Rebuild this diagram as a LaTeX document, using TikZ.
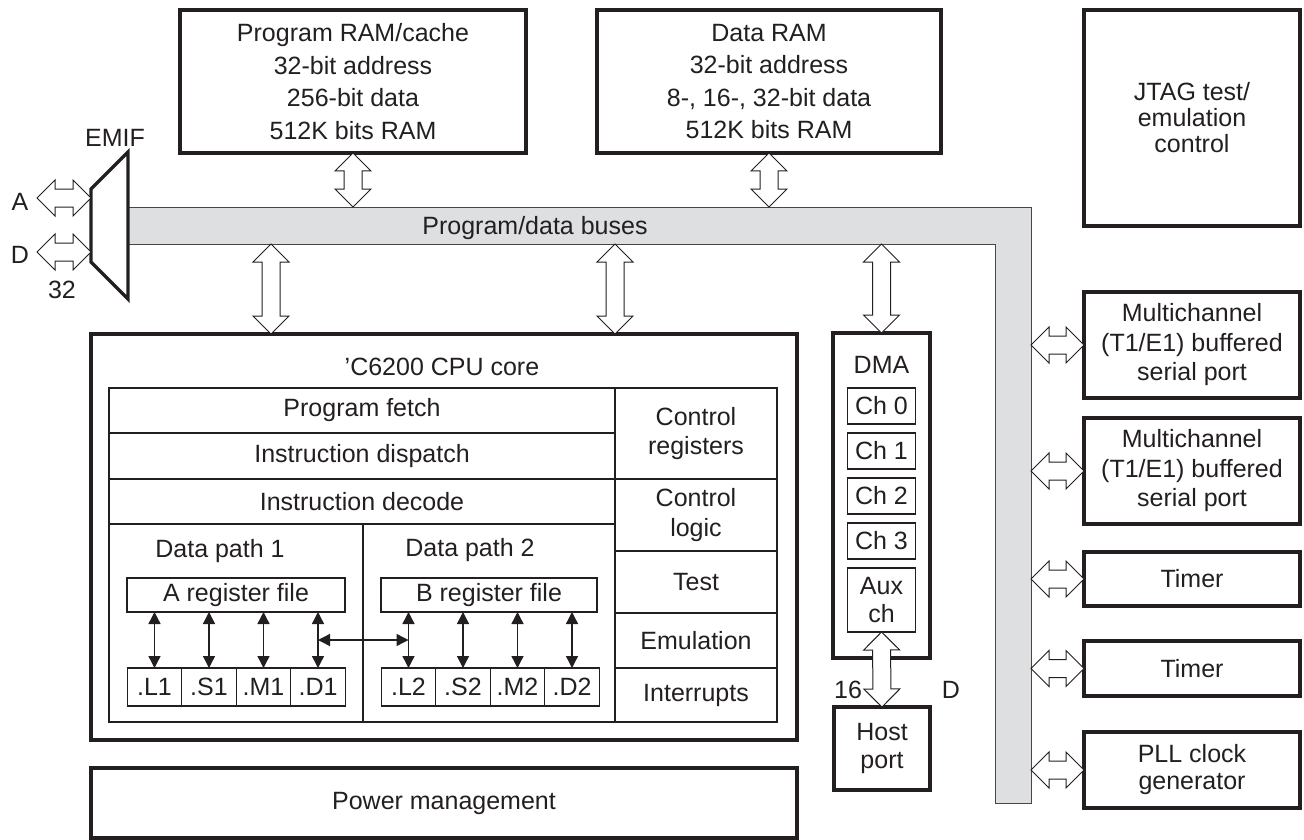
\documentclass[tikz,border=0pt]{standalone}
\usepackage{xcolor}
\usepackage{fontspec}
\setmainfont{Liberation Sans}
\usepackage{tikz}
\usetikzlibrary{positioning, arrows.meta, calc}
\definecolor{TIInk}{RGB}{35,31,32}
\definecolor{TIBus}{RGB}{222,223,225}
\definecolor{TIEdge}{RGB}{70,70,70}

% hollow double-headed bus arrow between two points
\newcommand{\busarrow}[2]{%
  \coordinate (bh1) at ($(#1)!18pt!(#2)$);
  \coordinate (bh2) at ($(#2)!18pt!(#1)$);
  \draw[fatarrow] (#1)
    -- ($(bh1)!18pt!90:(#2)$) -- ($(bh1)!9pt!90:(#2)$)
    -- ($(bh2)!9pt!-90:(#1)$) -- ($(bh2)!18pt!-90:(#1)$)
    -- (#2)
    -- ($(bh2)!18pt!90:(#1)$) -- ($(bh2)!9pt!90:(#1)$)
    -- ($(bh1)!9pt!-90:(#2)$) -- ($(bh1)!18pt!-90:(#2)$)
    -- cycle;
}

\tikzset{
  blk/.style={draw=TIInk, line width=3.2pt, align=center, inner sep=0pt, outer sep=0pt},
  cell/.style={draw=TIInk, line width=1.2pt, align=center, inner sep=0pt, outer sep=0pt},
  unitbox/.style={cell, minimum width=54.5pt, minimum height=38pt},
  chbox/.style={cell, minimum width=68pt, minimum height=36pt},
  fatarrow/.style={draw=TIInk, fill=white, line width=1pt, line join=miter},
  regarrow/.style={draw=TIInk, line width=1.4pt,
    {Triangle[length=12pt,width=12pt]}-{Triangle[length=12pt,width=12pt]}},
}

\begin{document}
\begin{tikzpicture}[x=1pt, y=-1pt, font=\fontsize{25}{29.5}\selectfont, text=TIInk]
  \useasboundingbox (0,0) rectangle (1304,840);

  % Memories and JTAG along the top
  \node[blk, minimum width=346pt, minimum height=143pt,
        font=\fontsize{25}{32.5}\selectfont] (pram) at (353,81.5)
        {Program RAM/cache\\32-bit address\\256-bit data\\512K bits RAM};
  \node[blk, minimum width=344pt, minimum height=143pt,
        font=\fontsize{25}{32.5}\selectfont] (dram) at (769,81.5)
        {Data RAM\\32-bit address\\8-, 16-, 32-bit data\\512K bits RAM};
  \node[blk, minimum width=216pt, minimum height=216pt,
        font=\fontsize{25}{26}\selectfont] (jtag) at (1192,118)
        {JTAG test/\\emulation\\control};

  % Program/data buses (L-shaped)
  \coordinate (busT) at (128,207);
  \coordinate (busB) at (128,244);
  \coordinate (busR) at (1031,207);
  \draw[draw=TIEdge, fill=TIBus, line width=1pt]
    (busT) -- (busR) -- (1031,803) -- (995,803) -- (995,244) -- (busB);
  \node (buslbl) at (535,228) {Program/data buses};

  % EMIF
  \draw[TIInk, line width=3.2pt, line join=miter]
    (91,189) -- (128,152) -- (128,299) -- (91,262) -- cycle;
  \node (emif) at (115,138) {EMIF};
  \coordinate (aL) at (37,198);  \coordinate (aR) at (91,198);
  \coordinate (dL) at (37,252);  \coordinate (dR) at (91,252);
  \busarrow{aL}{aR}
  \busarrow{dL}{dR}
  \node (lblA) at (20,202) {A};
  \node (lblD) at (20,255) {D};
  \node (lbl32) at (62,290) {32};

  % CPU core
  \node[blk, minimum width=706pt, minimum height=406pt] (cpu) at (444,537) {};
  \node (cputitle) at (442,367) {’C6200 CPU core};
  \node[cell, minimum width=506pt, minimum height=45pt] (fetch) at (362,410.5) {Program fetch};
  \node[cell, minimum width=506pt, minimum height=46pt] (disp) at (362,456) {Instruction dispatch};
  \node[cell, minimum width=506pt, minimum height=45pt] (dec) at (362,501.5) {Instruction decode};
  \node[cell, minimum width=254pt, minimum height=198pt] (dp1) at (236,623) {};
  \node[cell, minimum width=252pt, minimum height=198pt] (dp2) at (489,623) {};
  \node (dp1lbl) at (220,551) {Data path 1};
  \node (dp2lbl) at (470,550) {Data path 2};

  \node[cell, minimum width=162pt, minimum height=91pt] (creg) at (696,433.5) {Control\\registers};
  \node[cell, minimum width=162pt, minimum height=72pt] (clog) at (696,515) {Control\\logic};
  \node[cell, minimum width=162pt, minimum height=62pt] (test) at (696,582) {Test};
  \node[cell, minimum width=162pt, minimum height=55pt] (emu) at (696,640.5) {Emulation};
  \node[cell, minimum width=162pt, minimum height=54pt] (intr) at (696,695) {Interrupts};

  % Register files and functional units
  \node[cell, minimum width=218pt, minimum height=34pt] (arf) at (236,595) {A register file};
  \node[cell, minimum width=216pt, minimum height=34pt] (brf) at (489,595) {B register file};
  \node[unitbox] (l1) at (154.5,687) {.L1};
  \node[unitbox, right=0pt of l1] (s1) {.S1};
  \node[unitbox, right=0pt of s1] (m1) {.M1};
  \node[unitbox, right=0pt of m1] (d1) {.D1};
  \node[unitbox] (l2) at (408.5,687) {.L2};
  \node[unitbox, right=0pt of l2] (s2) {.S2};
  \node[unitbox, right=0pt of s2] (m2) {.M2};
  \node[unitbox, right=0pt of m2] (d2) {.D2};
  \foreach \u in {l1,s1,m1,d1}
    \draw[regarrow] (\u.north) -- (\u.north |- arf.south);
  \foreach \u in {l2,s2,m2,d2}
    \draw[regarrow] (\u.north) -- (\u.north |- brf.south);
  \coordinate (xab) at ($(d1.north)!.5!(d1.north |- arf.south)$);
  \draw[regarrow] (xab) -- (xab -| l2.north);

  % DMA and host port
  \node[blk, minimum width=97pt, minimum height=325pt] (dma) at (881.5,495.5) {};
  \node (dmalbl) at (881.5,365) {DMA};
  \node[chbox] (ch0) at (881.5,406) {Ch 0};
  \node[chbox, below=9pt of ch0] (ch1) {Ch 1};
  \node[chbox, below=9pt of ch1] (ch2) {Ch 2};
  \node[chbox, below=9pt of ch2] (ch3) {Ch 3};
  \node[cell, minimum width=68pt, minimum height=64pt, below=9pt of ch3,
        font=\fontsize{25}{28}\selectfont] (aux) {Aux\\ch};
  \node[blk, minimum width=96pt, minimum height=83pt,
        font=\fontsize{25}{28}\selectfont] (host) at (882,748.5) {Host\\port};
  \busarrow{aux.south}{host.north}
  \node (lbl16) at (848,690) {16};
  \node (lblD2) at (951,690) {D};

  \node[blk, minimum width=706pt, minimum height=70pt] (power) at (444,803) {Power management};

  % Peripherals on the right
  \node[blk, minimum width=216pt, minimum height=106pt] (mc1) at (1192,345)
        {Multichannel\\(T1/E1) buffered\\serial port};
  \node[blk, minimum width=216pt, minimum height=106pt] (mc2) at (1192,471)
        {Multichannel\\(T1/E1) buffered\\serial port};
  \node[blk, minimum width=216pt, minimum height=54pt] (tim1) at (1192,579) {Timer};
  \node[blk, minimum width=216pt, minimum height=55pt] (tim2) at (1192,668.5) {Timer};
  \node[blk, minimum width=216pt, minimum height=76pt,
        font=\fontsize{25}{27}\selectfont] (pll) at (1192,770) {PLL clock\\generator};

  % Bus connections
  \coordinate (pramIn) at (pram.south |- busT);
  \coordinate (dramIn) at (dram.south |- busT);
  \busarrow{pram.south}{pramIn}
  \busarrow{dram.south}{dramIn}
  \coordinate (cpuA) at (271,244);  \coordinate (cpuAin) at (cpuA |- cpu.north);
  \coordinate (cpuB) at (615,244);  \coordinate (cpuBin) at (cpuB |- cpu.north);
  \coordinate (dmaOut) at (dma.north |- busB);
  \busarrow{cpuA}{cpuAin}
  \busarrow{cpuB}{cpuBin}
  \busarrow{dmaOut}{dma.north}
  \foreach \bx in {mc1,mc2,tim1,tim2,pll}{
    \coordinate (\bx out) at (\bx.west -| busR);
    \busarrow{\bx out}{\bx.west}
  }
\end{tikzpicture}
\end{document}
